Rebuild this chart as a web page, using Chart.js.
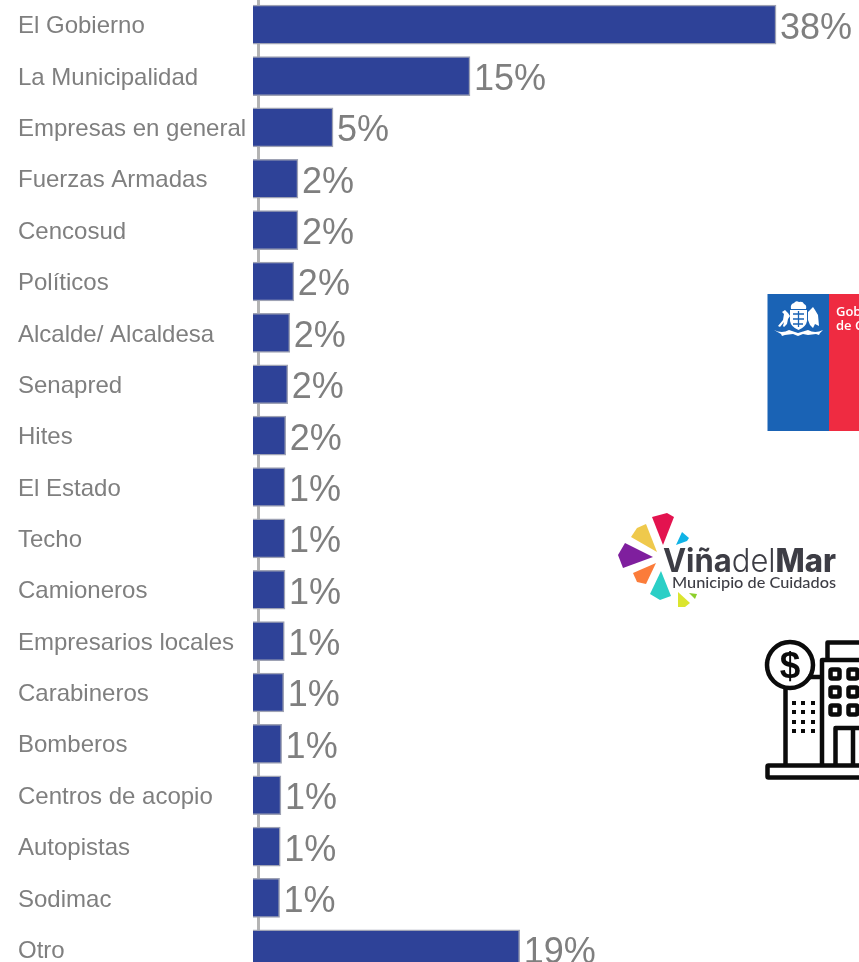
<!DOCTYPE html>
<html lang="es">
<head>
<meta charset="utf-8">
<title>Menciones</title>
<script src="https://cdn.jsdelivr.net/npm/chart.js@4"></script>
<style>
html,body{margin:0;padding:0;background:#fff;width:859px;height:962px;overflow:hidden}
#wrap{position:absolute;left:0;top:-1px;width:859px;height:976px;filter:blur(0.45px)}
#logos{position:absolute;left:0;top:0;pointer-events:none;filter:blur(0.35px)}
</style>
</head>
<body>
<div id="wrap"><canvas id="c" width="859" height="976"></canvas></div>

<svg id="logos" width="859" height="962" viewBox="0 0 859 962" xmlns="http://www.w3.org/2000/svg">
  <!-- Gobierno de Chile -->
  <rect x="767.500" y="294" width="62" height="137" fill="#1a63b5"/>
  <rect x="829" y="294" width="31" height="137" fill="#ef2b41"/>
  <text x="836" y="316" font-family="'Open Sans'" font-weight="600" font-size="13" fill="#fff">Gobierno</text>
  <text x="836" y="330" font-family="'Open Sans'" font-weight="600" font-size="13" fill="#fff">de Chile</text>
  <g fill="#fff">
    <path d="M791 309q-1-5 3-6q2-3 5-1q4-1 5 2q3 1 2 5z"/>
    <path d="M790 310h17v11q-1 6-8.500 9q-7.500-3-8.500-9z"/>
    <path d="M778 326l5-6l1-6l-2-2l3-2l3 3l2 3l-2 3l-1 5l-3 3l-1-1l1-4l-4 5z"/>
    <path d="M808 312l5-5l2 3l3 5l1 11l-4-2l-2 4l-3-3l-2-5z"/>
    <path d="M774 330q8 4 15 0l9 3l10-3q7 4 15 0l-3 3l-1 2l-3-1l-8 1l-5-1l-5 2l-5-2l-8 1l-3 1l-1-2z"/>
  </g>
  <path d="M793 314h11M793 319h11M793 324h10M798.500 311v16" stroke="#1a63b5" stroke-width="1.300" fill="none"/>

  <!-- Viña del Mar -->
  <polygon points="652,517 667,513 674,517 663,545" fill="#e3134f"/>
  <polygon points="631,537 637,528 646,524 657,552" fill="#efc94c"/>
  <polygon points="676,545 682,532 689,538 687,541" fill="#10b3e6"/>
  <polygon points="618,555 625,543 653,557 623,568" fill="#7f1f9e"/>
  <polygon points="633,573 656,563 646,584 637,582" fill="#fb7c3a"/>
  <polygon points="650,594 661,571 671,596 660,600" fill="#2bcfc6"/>
  <polygon points="678,592 690,603 685,607 678,607" fill="#dbe52f"/>
  <polygon points="689,593 697,594 695,599" fill="#8ccf2a"/>
  <text x="663" y="572" font-family="Inter" font-size="32" fill="#3d3d45" textLength="173" lengthAdjust="spacingAndGlyphs"><tspan font-weight="700">Viña</tspan><tspan font-weight="300">del</tspan><tspan font-weight="800">Mar</tspan></text>
  <text x="672" y="588" font-family="Lato" font-size="15.500" font-weight="500" fill="#3d3d45" textLength="164" lengthAdjust="spacingAndGlyphs">Municipio de Cuidados</text>

  <!-- Edificio -->
  <g fill="none" stroke="#0b0b0b" stroke-width="4.500" stroke-linejoin="round">
    <path d="M827.500 660V642.500H862"/>
    <path d="M862 660H822V764"/>
    <path d="M785.500 688V764"/>
    <path d="M808 677H822"/>
    <circle cx="790" cy="665" r="23"/>
    <rect x="767.500" y="765.500" width="100" height="12" rx="1"/>
    <path d="M835.500 764V728H870M853 728V764"/>
    <g stroke-width="4.500">
      <rect x="830.500" y="669.500" width="9" height="9" rx="1.500"/>
      <rect x="848.500" y="669.500" width="9" height="9" rx="1.500"/>
      <rect x="830.500" y="687.500" width="9" height="9" rx="1.500"/>
      <rect x="848.500" y="687.500" width="9" height="9" rx="1.500"/>
      <rect x="830.500" y="705.500" width="9" height="9" rx="1.500"/>
      <rect x="848.500" y="705.500" width="9" height="9" rx="1.500"/>
    </g>
  </g>
  <text x="790" y="678" text-anchor="middle" font-family="'Liberation Sans'" font-weight="700" font-size="37" fill="#0b0b0b">$</text>
  <g fill="#0b0b0b">
    <rect x="792" y="701" width="4" height="4"/><rect x="801" y="701" width="4" height="4"/><rect x="811" y="701" width="4" height="4"/>
    <rect x="792" y="710" width="4" height="4"/><rect x="801" y="710" width="4" height="4"/><rect x="811" y="710" width="4" height="4"/>
    <rect x="792" y="720" width="4" height="4"/><rect x="801" y="720" width="4" height="4"/><rect x="811" y="720" width="4" height="4"/>
    <rect x="792" y="729" width="4" height="4"/><rect x="801" y="729" width="4" height="4"/><rect x="811" y="729" width="4" height="4"/>
  </g>
</svg>

<script>
const categories = ["El Gobierno","La Municipalidad","Empresas en general","Fuerzas Armadas","Cencosud","Políticos","Alcalde/ Alcaldesa","Senapred","Hites","El Estado","Techo","Camioneros","Empresarios locales","Carabineros","Bomberos","Centros de acopio","Autopistas","Sodimac","Otro"];
const values = [38.05,15.55,5.48,2.9,2.9,2.6,2.3,2.15,2,1.95,1.95,1.95,1.9,1.85,1.7,1.65,1.6,1.55,19.2];
const valueLabels = ["38%","15%","5%","2%","2%","2%","2%","2%","2%","1%","1%","1%","1%","1%","1%","1%","1%","1%","19%"];

const grey = "#7f7f7f";

const barValueLabels = {
  id: "barValueLabels",
  afterDatasetsDraw(chart) {
    const ctx = chart.ctx;
    const bars = chart.getDatasetMeta(0).data;
    ctx.save();
    ctx.font = "36px 'Liberation Sans'";
    ctx.fillStyle = grey;
    ctx.textAlign = "left";
    ctx.textBaseline = "middle";
    bars.forEach((bar, i) => ctx.fillText(valueLabels[i], bar.x + 4, bar.y + 4));
    ctx.restore();
  }
};

new Chart(document.getElementById("c"), {
  type: "bar",
  plugins: [barValueLabels],
  data: {
    labels: categories,
    datasets: [{
      data: values,
      base: -0.404,
      backgroundColor: "#2e4298",
      borderColor: "#9ea2b4",
      borderWidth: 1.5,
      barThickness: 39
    }]
  },
  options: {
    indexAxis: "y",
    responsive: false,
    animation: false,
    layout: { padding: { left: 18, right: 0, top: 0, bottom: 0 } },
    plugins: { legend: { display: false }, tooltip: { enabled: false } },
    scales: {
      x: {
        min: -0.404,
        max: 44.15,
        afterBuildTicks(scale) { scale.ticks = [{ value: 0 }]; },
        ticks: { display: false },
        border: { display: false },
        grid: { color: "#b4b4b4", lineWidth: 3, drawTicks: false }
      },
      y: {
        afterFit(scale) { scale.width = 235; scale.paddingTop = 0; scale.paddingBottom = 0; },
        border: { display: false },
        grid: { display: false, drawTicks: false },
        ticks: {
          crossAlign: "far",
          autoSkip: false,
          padding: 0,
          labelOffset: 2,
          color: grey,
          font: { family: "'Liberation Sans'", size: 24 }
        }
      }
    }
  }
});
</script>
</body>
</html>
